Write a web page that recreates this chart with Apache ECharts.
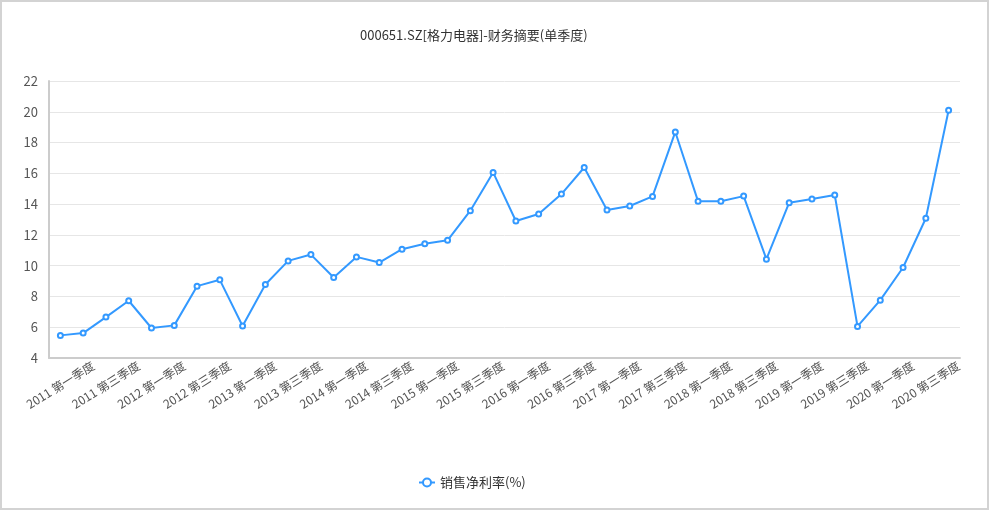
<!DOCTYPE html>
<html>
<head>
<meta charset="utf-8">
<script src="https://cdn.jsdelivr.net/npm/echarts@6/dist/echarts.min.js"></script>
<style>
html,body{margin:0;padding:0;background:#fff;}
#wrap{width:989px;height:510px;box-sizing:border-box;border:2px solid #d3d3d3;background:#fff;}
#chart{width:985px;height:506px;}
</style>
</head>
<body>
<div id="wrap"><div id="chart"></div></div>
<script>
const titleText = '000651.SZ[格力电器]-财务摘要(单季度)';
const seriesName = '销售净利率(%)';
const years = ['2011','2012','2013','2014','2015','2016','2017','2018','2019','2020'];
const quarters = ['第一季度','第二季度','第三季度','第四季度'];
const categories = [];
years.forEach(y => quarters.forEach(q => categories.push(y + ' ' + q)));
const netMargin = [
  5.47, 5.62, 6.66, 7.72,
  5.95, 6.12, 8.67, 9.08,
  6.08, 8.78, 10.31, 10.72,
  9.23, 10.57, 10.20, 11.07,
  11.43, 11.65, 13.57, 16.06,
  12.90, 13.36, 14.65, 16.38,
  13.62, 13.88, 14.50, 18.69,
  14.18, 14.18, 14.52, 10.42,
  14.09, 14.33, 14.59, 6.05,
  7.76, 9.88, 13.08, 20.10
];
const yTicks = {min: 4, max: 22, interval: 2};

const chart = echarts.init(document.getElementById('chart'));
chart.setOption({
  animation: false,
  backgroundColor: '#fff',
  title: {
    text: titleText,
    left: 353,
    top: 22,
    textStyle: {fontSize: 13, fontWeight: 'normal', color: '#333', fontFamily: 'Noto Sans CJK SC'}
  },
  legend: {
    data: [seriesName],
    bottom: 14,
    left: 411,
    itemWidth: 16,
    itemHeight: 10,
    textStyle: {fontSize: 13, color: '#333', fontFamily: 'Noto Sans CJK SC'}
  },
  grid: {left: 47, right: 27, top: 79, bottom: 150, containLabel: false, outerBoundsMode: 'none'},
  xAxis: {
    type: 'category',
    data: categories,
    boundaryGap: true,
    axisLine: {lineStyle: {color: '#cccccc', width: 2}},
    axisTick: {show: false},
    axisLabel: {
      interval: 1,
      rotate: 32,
      align: 'center',
      verticalAlign: 'middle',
      fontSize: 12,
      color: '#555',
      margin: 27,
      fontFamily: 'Noto Sans CJK SC'
    }
  },
  yAxis: {
    type: 'value',
    min: yTicks.min,
    max: yTicks.max,
    interval: yTicks.interval,
    axisLine: {show: true, lineStyle: {color: '#cccccc', width: 2}},
    axisTick: {show: false},
    axisLabel: {fontSize: 13, color: '#555', margin: 11, fontFamily: 'Noto Sans CJK SC'},
    splitLine: {lineStyle: {color: '#e6e6e6', width: 1}}
  },
  series: [{
    name: seriesName,
    type: 'line',
    data: netMargin,
    symbol: 'emptyCircle',
    symbolSize: 5,
    itemStyle: {color: '#3399ff'},
    lineStyle: {color: '#3399ff', width: 2}
  }]
});
</script>
</body>
</html>
